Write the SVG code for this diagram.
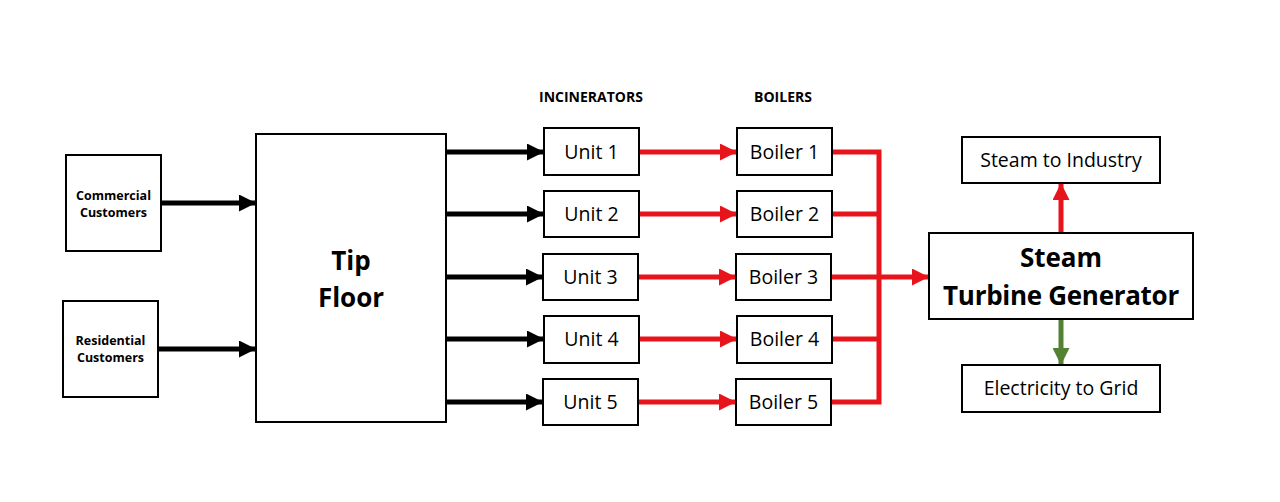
<svg xmlns="http://www.w3.org/2000/svg" width="1280" height="502" viewBox="0 0 1280 502">
<style>
.box{fill:#fff;stroke:#000;stroke-width:2}
.t{font-family:"Open Sans","Liberation Sans",sans-serif;fill:#000;text-anchor:middle}
.lbl{font-size:19.5px}
.sm{font-size:12.5px;font-weight:bold}
.hd{font-size:14px;font-weight:bold}
.big{font-size:26px;font-weight:bold}
.blk{stroke:#000;stroke-width:5;fill:none}
.red{stroke:#E8141B;stroke-width:5;fill:none}
.grn{stroke:#548235;stroke-width:5;fill:none}
</style>
<defs>
<marker id="ab" markerWidth="3.4" markerHeight="3.4" refX="3.4" refY="1.7" orient="auto" markerUnits="strokeWidth"><path d="M0,0 L3.4,1.7 L0,3.4 z" fill="#000"/></marker>
<marker id="ar" markerWidth="3.4" markerHeight="3.4" refX="3.4" refY="1.7" orient="auto" markerUnits="strokeWidth"><path d="M0,0 L3.4,1.7 L0,3.4 z" fill="#E8141B"/></marker>
<marker id="ag" markerWidth="3.4" markerHeight="3.4" refX="3.4" refY="1.7" orient="auto" markerUnits="strokeWidth"><path d="M0,0 L3.4,1.7 L0,3.4 z" fill="#548235"/></marker>
</defs>
<rect width="1280" height="502" fill="#fff"/>
<g id="connectors">
<line class="blk" x1="161" y1="203" x2="256" y2="203" marker-end="url(#ab)"/>
<line class="blk" x1="158" y1="349" x2="256" y2="349" marker-end="url(#ab)"/>
<line class="blk" x1="446" y1="152" x2="544" y2="152" marker-end="url(#ab)"/>
<line class="blk" x1="446" y1="214" x2="544" y2="214" marker-end="url(#ab)"/>
<line class="blk" x1="446" y1="277" x2="543" y2="277" marker-end="url(#ab)"/>
<line class="blk" x1="446" y1="339" x2="544" y2="339" marker-end="url(#ab)"/>
<line class="blk" x1="446" y1="402" x2="543" y2="402" marker-end="url(#ab)"/>
<line class="red" x1="639" y1="152" x2="737" y2="152" marker-end="url(#ar)"/>
<line class="red" x1="639" y1="214" x2="737" y2="214" marker-end="url(#ar)"/>
<line class="red" x1="638" y1="277" x2="736" y2="277" marker-end="url(#ar)"/>
<line class="red" x1="639" y1="339" x2="737" y2="339" marker-end="url(#ar)"/>
<line class="red" x1="638" y1="402" x2="736" y2="402" marker-end="url(#ar)"/>
<polyline class="red" points="832,152 879,152 879,402 832,402"/>
<line class="red" x1="832" y1="214" x2="879" y2="214"/>
<line class="red" x1="832" y1="277" x2="879" y2="277"/>
<line class="red" x1="832" y1="339" x2="879" y2="339"/>
<line class="red" x1="879" y1="277" x2="929" y2="277" marker-end="url(#ar)"/>
<line class="red" x1="1061" y1="233" x2="1061" y2="183" marker-end="url(#ar)"/>
<line class="grn" x1="1061" y1="319" x2="1061" y2="365" marker-end="url(#ag)"/>
</g>
<text class="t hd" x="591" y="102">INCINERATORS</text>
<text class="t hd" x="783" y="102">BOILERS</text>
<g id="commercial"><rect class="box" x="66" y="155" width="95" height="96"/><text class="t sm" x="113.5" y="200">Commercial</text><text class="t sm" x="113.5" y="217">Customers</text></g>
<g id="residential"><rect class="box" x="63" y="301" width="95" height="96"/><text class="t sm" x="110.5" y="345">Residential</text><text class="t sm" x="110.5" y="362">Customers</text></g>
<g id="tipfloor"><rect class="box" x="256" y="134" width="190" height="288"/><text class="t big" x="351" y="270">Tip</text><text class="t big" x="351" y="307">Floor</text></g>
<g id="unit1"><rect class="box" x="544" y="128" width="95" height="47"/><text class="t lbl" x="591.5" y="159">Unit 1</text></g>
<g id="unit2"><rect class="box" x="544" y="191" width="95" height="46"/><text class="t lbl" x="591.5" y="221">Unit 2</text></g>
<g id="unit3"><rect class="box" x="543" y="254" width="95" height="46"/><text class="t lbl" x="590.5" y="284">Unit 3</text></g>
<g id="unit4"><rect class="box" x="544" y="316" width="95" height="47"/><text class="t lbl" x="591.5" y="346">Unit 4</text></g>
<g id="unit5"><rect class="box" x="543" y="379" width="95" height="46"/><text class="t lbl" x="590.5" y="409">Unit 5</text></g>
<g id="boiler1"><rect class="box" x="737" y="128" width="95" height="47"/><text class="t lbl" x="784.5" y="159">Boiler 1</text></g>
<g id="boiler2"><rect class="box" x="737" y="191" width="95" height="46"/><text class="t lbl" x="784.5" y="221">Boiler 2</text></g>
<g id="boiler3"><rect class="box" x="736" y="254" width="95" height="46"/><text class="t lbl" x="783.5" y="284">Boiler 3</text></g>
<g id="boiler4"><rect class="box" x="737" y="316" width="95" height="47"/><text class="t lbl" x="784.5" y="346">Boiler 4</text></g>
<g id="boiler5"><rect class="box" x="736" y="379" width="95" height="46"/><text class="t lbl" x="783.5" y="409">Boiler 5</text></g>
<g id="stg"><rect class="box" x="929" y="233" width="264" height="86"/><text class="t big" x="1061" y="267">Steam</text><text class="t big" x="1061" y="305" letter-spacing="-0.3">Turbine Generator</text></g>
<g id="industry"><rect class="box" x="962" y="137" width="198" height="46"/><text class="t lbl" x="1061" y="167">Steam to Industry</text></g>
<g id="grid"><rect class="box" x="962" y="365" width="198" height="47"/><text class="t lbl" x="1061" y="395">Electricity to Grid</text></g>
</svg>
